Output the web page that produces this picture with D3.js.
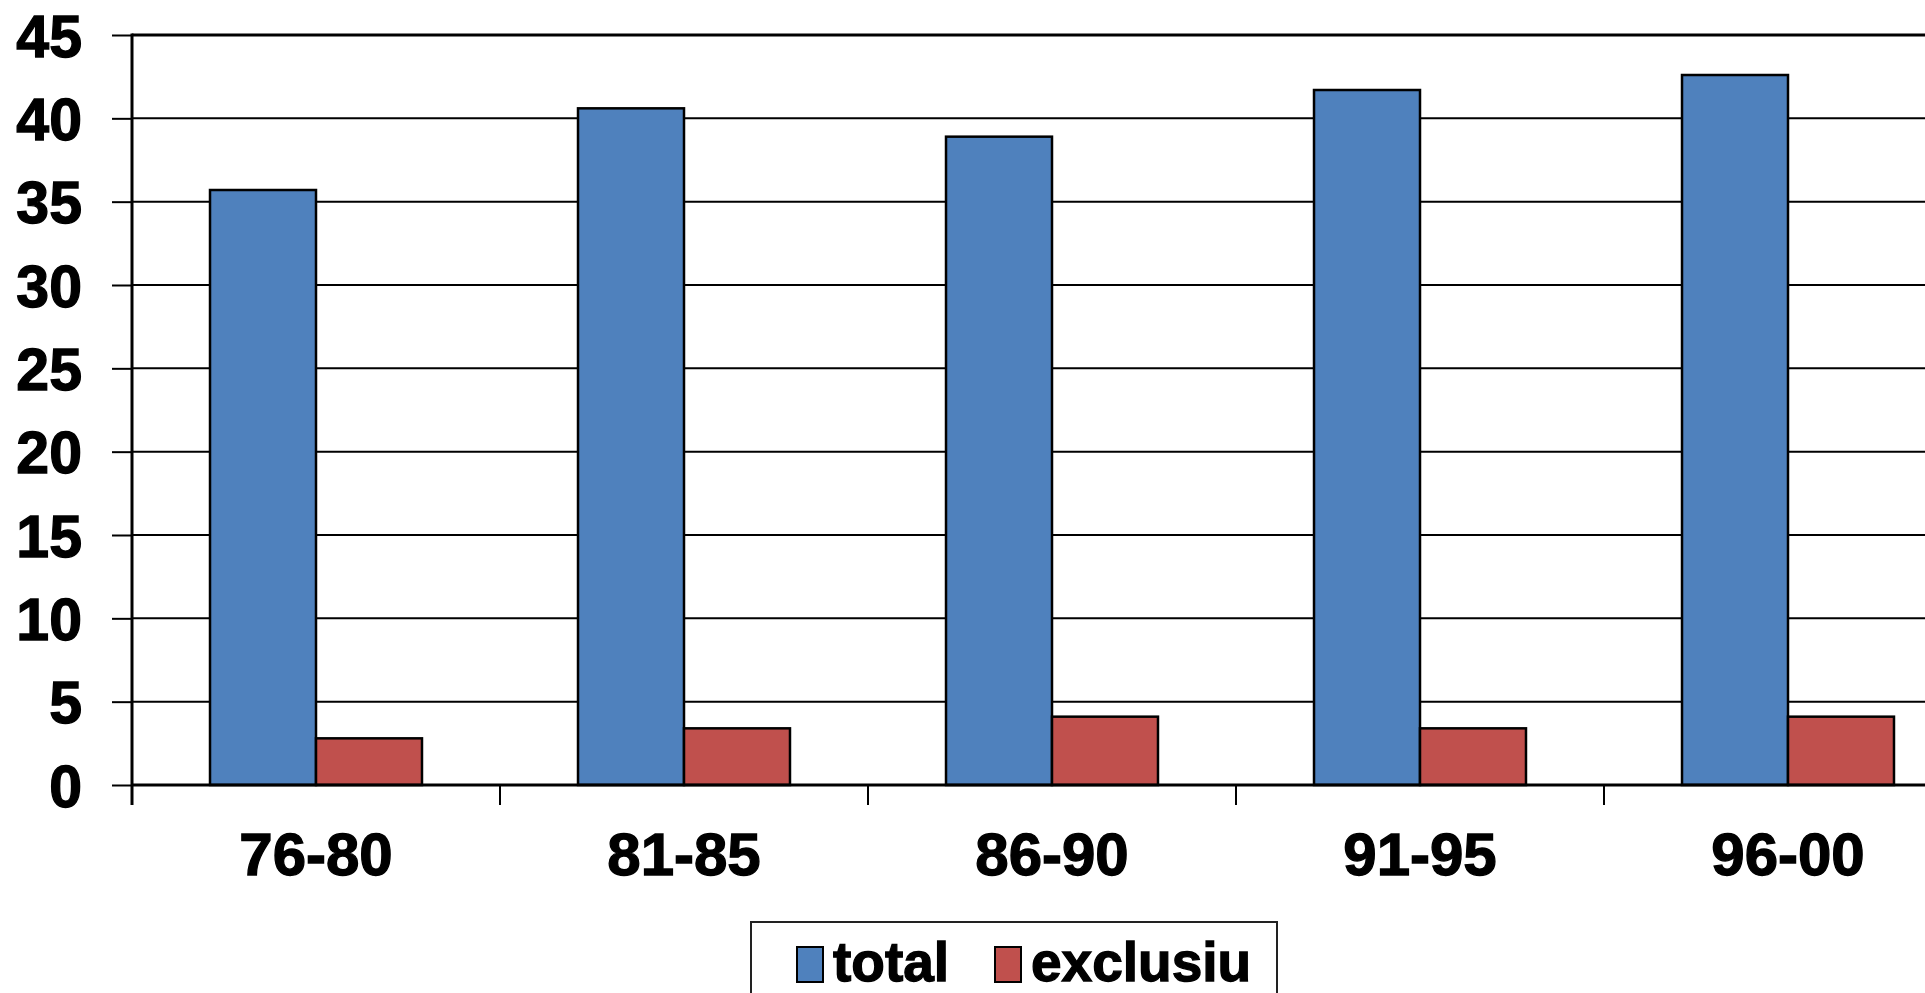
<!DOCTYPE html>
<html>
<head>
<meta charset="utf-8">
<script src="https://cdn.jsdelivr.net/npm/d3@7"></script>
<style>
  html, body { margin: 0; padding: 0; background: #fff; overflow: hidden; }
  svg { display: block; font-family: "Liberation Sans", Arial, sans-serif; font-weight: bold; }
  .lbl { stroke: #000; stroke-width: 1.3px; paint-order: stroke; }
</style>
</head>
<body>
<svg id="chart" width="1925" height="993"></svg>
<script>
// Periods on the category axis
const categories = ["76-80", "81-85", "86-90", "91-95", "96-00"];
// Series names and values
const seriesNames = ["total", "exclusiu"];
const totalValues = [35.7, 40.6, 38.9, 41.7, 42.6];
const exclusiuValues = [2.8, 3.4, 4.1, 3.4, 4.1];
// Value axis ticks
const yTicks = [0, 5, 10, 15, 20, 25, 30, 35, 40, 45];

const colors = { total: "#4F81BD", exclusiu: "#C0504D" };
const valuesBySeries = { total: totalValues, exclusiu: exclusiuValues };

const svg = d3.select("#chart");

const plotLeft = 132, plotRight = 1972, plotTop = 35, plotBottom = 785;

const y = d3.scaleLinear().domain([0, 45]).range([plotBottom, plotTop]);
const x0 = d3.scaleBand().domain(categories).range([plotLeft, plotRight]).padding(0);
const x1 = d3.scaleBand().domain(seriesNames).range([0, x0.bandwidth()])
  .paddingInner(0).paddingOuter(0.736);

// Horizontal gridlines
svg.append("g").selectAll("line")
  .data(yTicks.filter(t => t > 0))
  .join("line")
  .attr("x1", plotLeft).attr("x2", plotRight)
  .attr("y1", d => y(d)).attr("y2", d => y(d))
  .attr("stroke", "#000")
  .attr("stroke-width", d => d === 45 ? 3 : 2);

// Bars
const groups = svg.append("g").selectAll("g")
  .data(categories)
  .join("g")
  .attr("transform", d => `translate(${x0(d)},0)`);

groups.selectAll("rect")
  .data((c, i) => seriesNames.map(s => ({ s, v: valuesBySeries[s][i] })))
  .join("rect")
  .attr("x", d => x1(d.s))
  .attr("width", x1.bandwidth())
  .attr("y", d => y(d.v))
  .attr("height", d => y(0) - y(d.v))
  .attr("fill", d => colors[d.s])
  .attr("stroke", "#000")
  .attr("stroke-width", 2.5);

// Value axis
const yAxis = svg.append("g")
  .attr("transform", `translate(${plotLeft},0)`)
  .call(d3.axisLeft(y).tickValues(yTicks).tickSize(20).tickPadding(30).tickSizeOuter(0));
yAxis.select(".domain").remove();
yAxis.selectAll(".tick line").attr("stroke", "#000").attr("stroke-width", 2);
yAxis.selectAll(".tick text")
  .attr("class", "lbl")
  .attr("fill", "#000")
  .style("font-size", "59px")
  .style("font-family", "'Liberation Sans', Arial, sans-serif")
  .style("font-weight", "bold")
  .attr("dy", "0.36em");
svg.append("line")
  .attr("x1", plotLeft).attr("x2", plotLeft)
  .attr("y1", plotTop - 1.5).attr("y2", plotBottom + 20)
  .attr("stroke", "#000").attr("stroke-width", 3);

// Category axis
const xAxis = svg.append("g")
  .attr("transform", `translate(0,${plotBottom})`)
  .call(d3.axisBottom(x0).tickSize(0).tickPadding(47));
xAxis.select(".domain").remove();
xAxis.selectAll(".tick text")
  .attr("class", "lbl")
  .attr("fill", "#000")
  .style("font-size", "60px")
  .style("font-family", "'Liberation Sans', Arial, sans-serif")
  .style("font-weight", "bold");
svg.append("line")
  .attr("x1", plotLeft).attr("x2", plotRight)
  .attr("y1", plotBottom).attr("y2", plotBottom)
  .attr("stroke", "#000").attr("stroke-width", 3);
// Category boundary ticks
svg.append("g").selectAll("line")
  .data(categories.slice(1))
  .join("line")
  .attr("x1", d => x0(d)).attr("x2", d => x0(d))
  .attr("y1", plotBottom).attr("y2", plotBottom + 20)
  .attr("stroke", "#000").attr("stroke-width", 2);

// Legend
const legend = svg.append("g");
legend.append("rect")
  .attr("x", 751).attr("y", 922)
  .attr("width", 526).attr("height", 120)
  .attr("fill", "#fff")
  .attr("stroke", "#222").attr("stroke-width", 2);
const legendItems = [
  { s: "total", x: 797, tx: 833 },
  { s: "exclusiu", x: 995, tx: 1031 }
];
legend.selectAll("g.item")
  .data(legendItems)
  .join("g")
  .attr("class", "item")
  .each(function (d) {
    const g = d3.select(this);
    g.append("rect")
      .attr("x", d.x).attr("y", 947)
      .attr("width", 26).attr("height", 35)
      .attr("fill", colors[d.s])
      .attr("stroke", "#000").attr("stroke-width", 2);
    g.append("text")
      .attr("class", "lbl")
      .attr("x", d.tx).attr("y", 981)
      .attr("fill", "#000")
      .style("font-size", "55px")
      .text(d.s);
  });
</script>
</body>
</html>
